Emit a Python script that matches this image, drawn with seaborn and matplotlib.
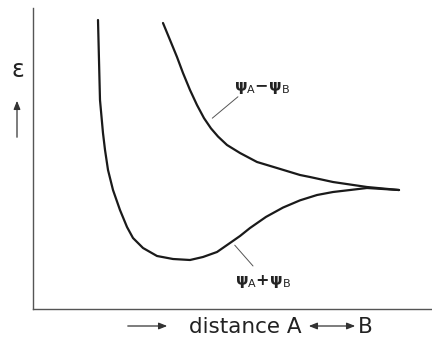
import numpy as np
import pandas as pd
import matplotlib
matplotlib.use('Agg')
import matplotlib.pyplot as plt
import seaborn as sns

# Curves (distance, energy in arbitrary units 0-100)
bond_x = [16.29, 16.54, 16.79, 17.54, 18.05, 18.80, 20.05, 21.80, 23.56, 25.06, 27.57,
          31.08, 35.09, 39.35, 42.61, 46.12, 49.37, 51.88, 54.39, 58.40, 62.66, 66.92,
          71.18, 75.19, 79.45, 83.71, 91.73]
bond_e = [96.01, 82.72, 69.44, 58.47, 52.82, 46.18, 39.53, 32.89, 27.24, 23.59, 20.27,
          17.61, 16.61, 16.28, 17.28, 18.94, 21.93, 24.25, 26.91, 30.60, 33.70, 36.10,
          37.87, 38.87, 39.53, 40.20, 39.53]

anti_x = [32.58, 34.34, 36.09, 37.59, 39.35, 41.10, 42.86, 44.61, 46.37, 48.62, 51.88,
          56.14, 61.15, 66.92, 69.42, 75.19, 83.71, 91.73]
anti_e = [95.02, 89.37, 83.72, 78.41, 72.76, 67.77, 63.40, 60.00, 57.30, 54.49, 51.83,
          48.84, 46.84, 44.52, 43.85, 42.19, 40.53, 39.53]

df = pd.concat([
    pd.DataFrame({'distance': bond_x, 'energy': bond_e, 'orbital': 'bonding'}),
    pd.DataFrame({'distance': anti_x, 'energy': anti_e, 'orbital': 'antibonding'}),
])

sns.set_style('white')
fig = plt.figure(figsize=(4.32, 3.43), dpi=100)
ax = fig.add_axes([33 / 432, 34 / 343, 399 / 432, 301 / 343])

sns.lineplot(data=df, x='distance', y='energy', units='orbital', estimator=None,
             sort=False, color='#1a1a1a', linewidth=1.6, ax=ax, legend=False)

ax.set_xlim(0, 100)
ax.set_ylim(0, 100)
ax.set_xticks([])
ax.set_yticks([])
ax.set_xlabel('')
ax.set_ylabel('')
sns.despine(ax=ax)
for side in ['left', 'bottom']:
    ax.spines[side].set_color('#555555')
    ax.spines[side].set_linewidth(1.0)

# curve labels with leader lines
minus_lbl = r'$\mathbf{\psi}_{\mathrm{A}}{\mathbf{-}}\mathbf{\psi}_{\mathrm{B}}$'
plus_lbl = r'$\mathbf{\psi}_{\mathrm{A}}{\mathbf{+}}\mathbf{\psi}_{\mathrm{B}}$'
ax.text(50.4, 73.4, minus_lbl, fontsize=11.5, ha='left', va='center', color='#222222')
ax.annotate('', xy=(44.4, 62.8), xytext=(51.9, 71.1),
            arrowprops=dict(arrowstyle='-', color='#555555', lw=0.7))
ax.text(50.6, 9.3, plus_lbl, fontsize=11.5, ha='left', va='center', color='#222222')
ax.annotate('', xy=(50.1, 21.9), xytext=(55.6, 13.6),
            arrowprops=dict(arrowstyle='-', color='#555555', lw=0.7))

# y axis label with arrow
fig.text(18 / 432, 1 - 70 / 343, '\u03b5', fontsize=17, ha='center', va='center', color='#222222')
ax.annotate('', xy=(17 / 432, 1 - 98 / 343), xytext=(17 / 432, 1 - 140 / 343),
            xycoords='figure fraction', textcoords='figure fraction',
            arrowprops=dict(arrowstyle='-|>,head_length=0.5,head_width=0.2', color='#333333', lw=0.9))

# x axis label with arrows
ax.annotate('', xy=(170 / 432, 1 - 326 / 343), xytext=(125 / 432, 1 - 326 / 343),
            xycoords='figure fraction', textcoords='figure fraction',
            arrowprops=dict(arrowstyle='-|>,head_length=0.5,head_width=0.2', color='#333333', lw=0.9))
fig.text(189 / 432, 1 - 327 / 343, 'distance A', fontsize=15.5, ha='left', va='center', color='#222222')
ax.annotate('', xy=(358 / 432, 1 - 326 / 343), xytext=(306 / 432, 1 - 326 / 343),
            xycoords='figure fraction', textcoords='figure fraction',
            arrowprops=dict(arrowstyle='<|-|>,head_length=0.5,head_width=0.2', color='#333333', lw=0.9))
fig.text(358 / 432, 1 - 327 / 343, 'B', fontsize=15.5, ha='left', va='center', color='#222222')

fig.savefig('out.png', dpi=100, facecolor='white')
